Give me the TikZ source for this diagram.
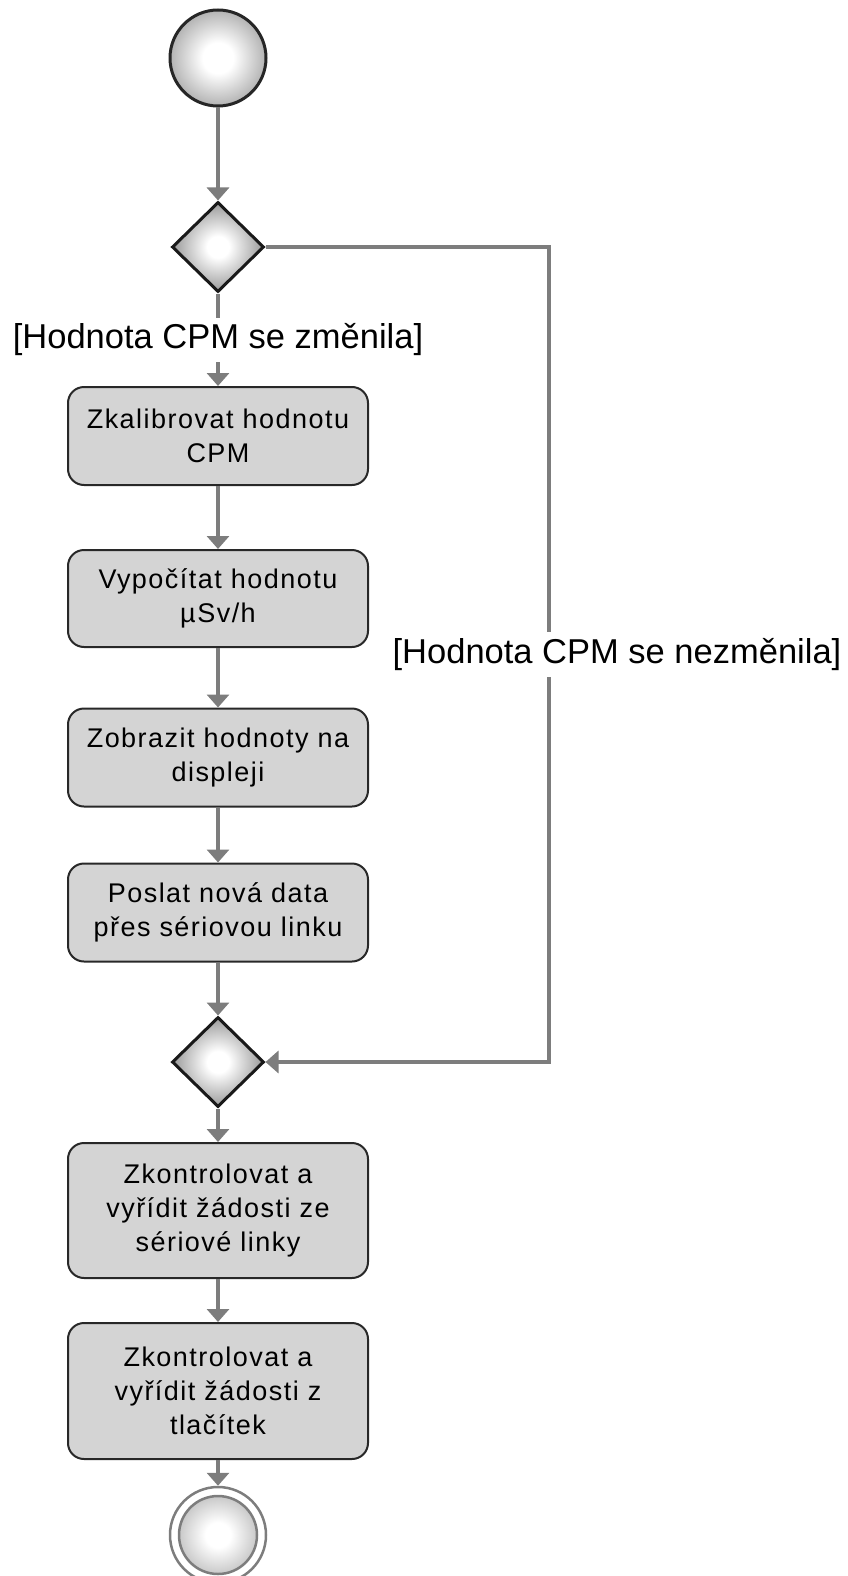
\documentclass[tikz,border=0pt]{standalone}
\usepackage{fontspec}
\setmainfont{Liberation Sans}
\newfontfamily\actfont[LetterSpace=5.5]{Liberation Sans}
\usetikzlibrary{arrows.meta,shapes.geometric}

\definecolor{linegray}{RGB}{125,125,125}
\definecolor{boxfill}{RGB}{212,212,212}
\definecolor{boxborder}{RGB}{40,40,40}
\definecolor{ballrim}{RGB}{120,120,120}
\definecolor{diarim}{RGB}{95,95,95}
\definecolor{endrim}{RGB}{165,165,165}

% soft spherical fills for the start/end points and the decision diamonds
\pgfdeclareradialshading{startball}{\pgfpoint{0bp}{0bp}}{color(0bp)=(white); color(8bp)=(white); color(38bp)=(ballrim); color(50bp)=(ballrim)}
\pgfdeclareradialshading{diaball}{\pgfpoint{0bp}{0bp}}{color(0bp)=(white); color(6bp)=(white); color(36bp)=(diarim); color(50bp)=(diarim)}
\pgfdeclareradialshading{endball}{\pgfpoint{0bp}{0bp}}{color(0bp)=(white); color(8bp)=(white); color(36bp)=(endrim); color(50bp)=(endrim)}

\begin{document}
\begin{tikzpicture}[x=1pt,y=-1pt,
  flow/.style={draw=linegray, line width=3.5pt, -{Triangle[width=22pt,length=13pt]}},
  activity/.style={rectangle, rounded corners=16pt, draw=boxborder, line width=2pt,
    fill=boxfill, minimum width=300pt, inner sep=0pt, align=center,
    font=\actfont\fontsize{27}{34}\selectfont},
  decision/.style={diamond, aspect=1, draw=black!90, line width=3pt,
    minimum width=92pt, minimum height=90pt, inner sep=0pt, shading=diaball},
  startnode/.style={circle, draw=black!85, line width=3pt, minimum size=96pt,
    inner sep=0pt, shading=startball},
  finalring/.style={circle, draw=linegray, line width=2.5pt, minimum size=96pt, inner sep=0pt},
  finalcore/.style={circle, draw=linegray, line width=2.5pt, minimum size=78pt,
    inner sep=0pt, shading=endball},
  guard/.style={fill=white, inner xsep=4pt, inner ysep=6pt, text=black,
    font=\fontsize{34.5}{40}\selectfont}
]
\useasboundingbox (0,0) rectangle (848,1576);

% nodes
\node[startnode] (start) at (218,58) {};
\node[decision] (d1) at (218,247) {};
\node[activity, minimum height=98pt] (b1) at (218,436) {Zkalibrovat hodnotu\\CPM};
\node[activity, minimum height=97pt] (b2) at (218,598.5) {Vypočítat hodnotu\\µSv/h};
\node[activity, minimum height=98pt] (b3) at (218,757.5) {Zobrazit hodnoty na\\displeji};
\node[activity, minimum height=98pt] (b4) at (218,912.5) {Poslat nová data\\přes sériovou linku};
\node[decision] (d2) at (218,1062) {};
\node[activity, minimum height=135pt] (b5) at (218,1210.5) {Zkontrolovat a\\vyřídit žádosti ze\\sériové linky};
\node[activity, minimum height=136pt] (b6) at (218,1391) {Zkontrolovat a\\vyřídit žádosti z\\tlačítek};
\node[finalring] (final) at (218,1535) {};
\node[finalcore] (finalin) at (final.center) {};

\coordinate (c1) at (549,247);
\coordinate (c2) at (549,1062);

% connectors
\draw[flow] (start) -- (d1);
\draw[flow] (d1.south) -- node[guard]{[Hodnota CPM se změnila]} (b1.north);
\draw[flow] (b1) -- (b2);
\draw[flow] (b2) -- (b3);
\draw[flow] (b3) -- (b4);
\draw[flow] (b4) -- (d2);
\draw[flow] (d2) -- (b5);
\draw[flow] (b5) -- (b6);
\draw[flow] (b6) -- (final);
\draw[flow] (d1.east) -- (c1) -- node[guard, xshift=68pt]{[Hodnota CPM se nezměnila]} (c2) -- (d2.east);
\end{tikzpicture}
\end{document}
